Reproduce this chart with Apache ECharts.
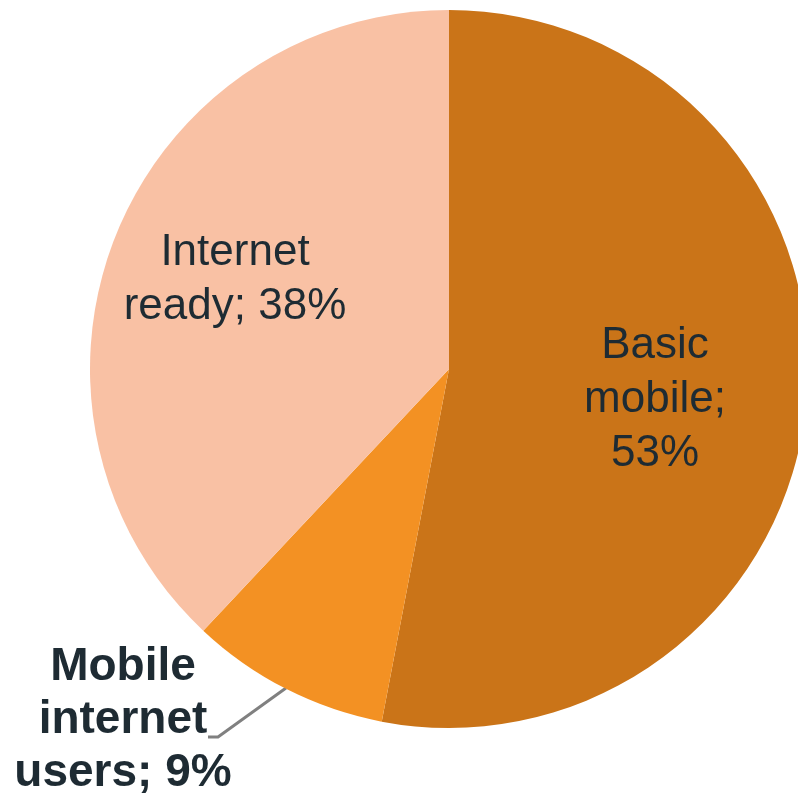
<!DOCTYPE html>
<html>
<head>
<meta charset="utf-8">
<script src="https://cdn.jsdelivr.net/npm/echarts@6/dist/echarts.min.js"></script>
<style>
html,body{margin:0;padding:0;background:#fff;}
#chart{width:798px;height:803px;}
</style>
</head>
<body>
<div id="chart"></div>
<script>
const categories = ["Basic mobile", "Mobile internet users", "Internet ready"];
const values = [53, 9, 38];
const labelTexts = ["Basic\nmobile;\n53%", "Mobile\ninternet\nusers; 9%", "Internet\nready; 38%"];
const colors = ["#CA7418", "#F39123", "#F9C1A4"];

const chart = echarts.init(document.getElementById('chart'), null, {renderer: 'canvas'});

const labelSpots = [
  {x: 655, y: 400},
  {x: 123, y: 720, line: [[286, 688], [218, 737], [208, 737]]},
  {x: 235, y: 280}
];

const data = categories.map((c, i) => ({
  name: c,
  value: values[i],
  itemStyle: {color: colors[i]},
  label: i === 1
    ? {position: 'outside', fontWeight: 'bold', fontSize: 46, lineHeight: 53}
    : {position: 'inside', fontSize: 44, lineHeight: 54},
  labelLine: {show: i === 1}
}));

chart.setOption({
  animation: false,
  backgroundColor: '#ffffff',
  series: [{
    type: 'pie',
    center: [449, 369],
    radius: [0, 359],
    startAngle: 90,
    clockwise: true,
    data: data,
    label: {
      show: true,
      formatter: p => labelTexts[p.dataIndex],
      color: '#1E2B33',
      fontFamily: 'Liberation Sans, Arial, sans-serif',
      align: 'center'
    },
    labelLine: {
      lineStyle: {color: '#808080', width: 3},
      smooth: false
    },
    labelLayout: function (params) {
      const s = labelSpots[params.dataIndex];
      const out = {x: s.x, y: s.y, align: 'center', verticalAlign: 'middle'};
      if (s.line) out.labelLinePoints = s.line;
      return out;
    }
  }]
});
</script>
</body>
</html>
